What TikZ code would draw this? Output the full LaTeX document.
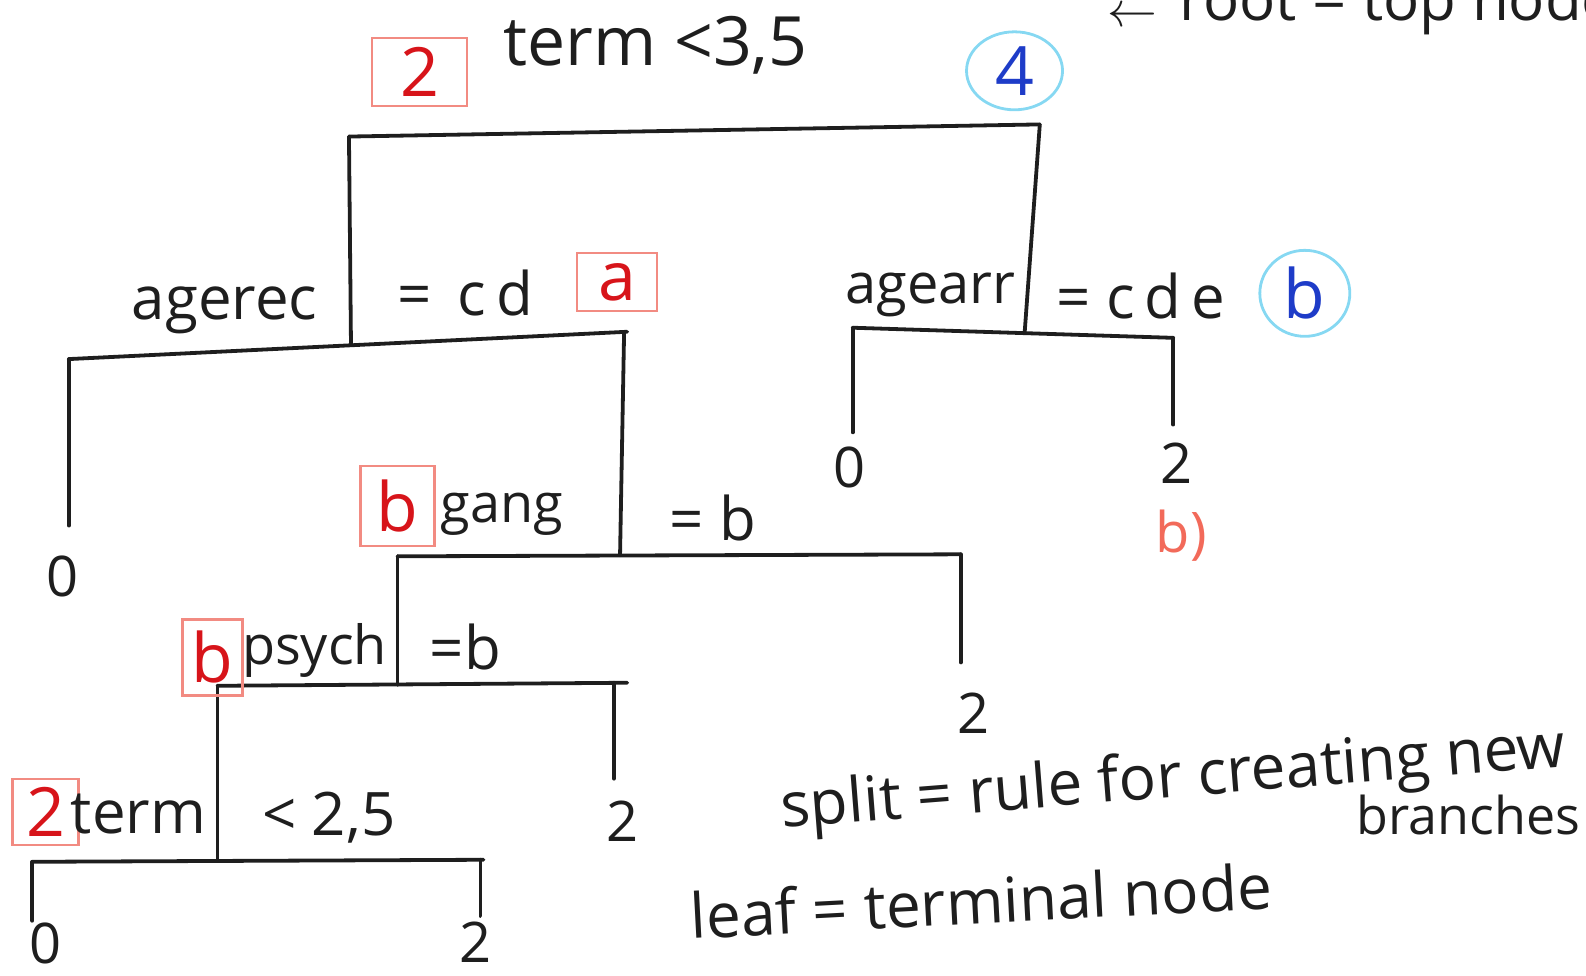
\documentclass[tikz,border=0pt]{standalone}
\usepackage{fontspec}
\setmainfont{Open Sans}
\usetikzlibrary{shapes.geometric}
\definecolor{pencil}{HTML}{1E1E1E}
\definecolor{boxred}{HTML}{F28B82}
\definecolor{inkred}{HTML}{D7141A}
\definecolor{circblue}{HTML}{86D8F2}
\definecolor{inkblue}{HTML}{1E3CC8}
\definecolor{salmon}{HTML}{F26A5A}
\begin{document}
\begin{tikzpicture}[x=0.50574pt,y=-0.50574pt,
  branch/.style={line width=1.9pt, draw=pencil, line cap=round},
  lbl/.style={font=\fontsize{30}{34}\selectfont, text=pencil, inner sep=0pt},
  note/.style={font=\fontsize{31}{36}\selectfont, text=pencil, inner sep=0pt},
  leaf/.style={font=\fontsize{28}{32}\selectfont, text=pencil, inner sep=0pt},
  redbox/.style={draw=boxred, line width=1.2pt, text=inkred, inner sep=0pt,
    font=\fontsize{34}{38}\selectfont},
  bluecirc/.style={ellipse, draw=circblue, line width=1.4pt, text=inkblue, inner sep=0pt,
    font=\fontsize{34}{38}\selectfont},
]
\useasboundingbox (0,0) rectangle (1568,964);

% ---- split points ----
\coordinate (n0L) at (345,135);
\coordinate (n0R) at (1028,123);
\coordinate (n1)  at (347,341);
\coordinate (n1L) at (68,355);
\coordinate (n1R) at (620,328);
\coordinate (n1Rv) at (617,329);
\coordinate (n2)  at (1013,329);
\coordinate (n2L) at (843,324);
\coordinate (n2R) at (1160,334);
\coordinate (n3)  at (613,549);
\coordinate (n3L) at (393,550);
\coordinate (n3R) at (950,548);
\coordinate (n4)  at (393,677);
\coordinate (n4L) at (215,678);
\coordinate (n4R) at (620,675);
\coordinate (n4Rv) at (607,675);
\coordinate (n5)  at (215,851);
\coordinate (n5L) at (32,852);
\coordinate (n5R) at (478,850);
\coordinate (n5Rv) at (475,850);

% ---- leaves ----
\node[leaf] (leafA) at (62,570) {0};
\node[leaf] (leafB) at (840,462) {0};
\node[leaf] (leafC) at (1163,458) {2};
\node[leaf] (leafD) at (962,705) {2};
\node[leaf] (leafE) at (615,812) {2};
\node[leaf] (leafF) at (45,933) {0};
\node[leaf] (leafG) at (470,932) {2};

% ---- branches ----
\draw[branch] (n0L) -- (n0R);
\draw[branch] (n0L) -- (n1);
\draw[branch] (n0R) -- (n2);
\draw[branch] (n1L) -- (n1R);
\draw[branch, shorten >=15pt] (n1L) -- (n1L |- leafA.north);
\draw[branch] (n1Rv) -- (n3);
\draw[branch] (n2L) -- (n2R);
\draw[branch, shorten >=7pt] (n2L) -- (n2L |- leafB.north);
\draw[branch, shorten >=9pt] (n2R) -- (n2R |- leafC.north);
\draw[branch] (n3L) -- (n3R);
\draw[branch] (n3L) -- (n4);
\draw[branch, shorten >=15pt] (n3R) -- (n3R |- leafD.north);
\draw[branch] (n4L) -- (n4R);
\draw[branch] (n4L) -- (n5);
\draw[branch, shorten >=11pt] (n4Rv) -- (n4Rv |- leafE.north);
\draw[branch] (n5L) -- (n5R);
\draw[branch, shorten >=1pt] (n5L) -- (n5L |- leafF.north);
\draw[branch, shorten >=3pt] (n5Rv) -- (n5Rv |- leafG.north);

% ---- labels ----
\node[redbox, minimum width=47.5pt, minimum height=34pt] (k0) at (415,71) {2};
\node[lbl, font=\fontsize{34}{38}\selectfont] (t0) at (648,45) {term <3,5};
\node[bluecirc, minimum width=48pt, minimum height=39pt] (c0) at (1003,70) {4};
\node[lbl, font=\fontsize{40}{40}\selectfont] (rootarrow) at (1120,17) {$\leftarrow$};
\node[lbl, anchor=base west] (root) at (1166,20) {root = top node};

\node[lbl] (t1a) at (222,307) {agerec};
\node[lbl] (t1b) at (460,290) {=\ \,c\,d};
\node[redbox, minimum width=40pt, minimum height=29pt] (k1) at (610,279) {a};

\node[lbl, font=\fontsize{28}{32}\selectfont] (t2a) at (920,292) {agearr};
\node[lbl] (t2b) at (1128,293) {=\ c\,d\,e};
\node[bluecirc, minimum width=45pt, minimum height=43pt] (c2) at (1290,290) {b};
\node[font=\fontsize{28}{32}\selectfont, text=salmon, inner sep=0pt] (bp) at (1168,530) {b)};

\node[redbox, minimum width=37pt, minimum height=40pt] (k3) at (393,500) {b};
\node[lbl, font=\fontsize{27}{32}\selectfont] (t3a) at (496,508) {gang};
\node[lbl] (t3b) at (705,512) {=\ b};

\node[redbox, minimum width=30pt, minimum height=38pt] (k4) at (210,650) {b};
\node[lbl, font=\fontsize{27}{32}\selectfont] (t4a) at (311,643) {psych};
\node[lbl] (t4b) at (460,640) {=b};

\node[redbox, minimum width=33pt, minimum height=33pt] (k5) at (45,803) {2};
\node[lbl] (t5a) at (137,805) {term};
\node[lbl] (t5b) at (325,808) {<\ 2,5};

% ---- notes ----
\node[note, rotate=4.5] (split) at (1160,772) {split = rule for creating new};
\node[note, font=\fontsize{26}{30}\selectfont] (branches) at (1452,806) {branches};
\node[note, rotate=3] (leafnote) at (970,890) {leaf = terminal node};
\end{tikzpicture}
\end{document}
